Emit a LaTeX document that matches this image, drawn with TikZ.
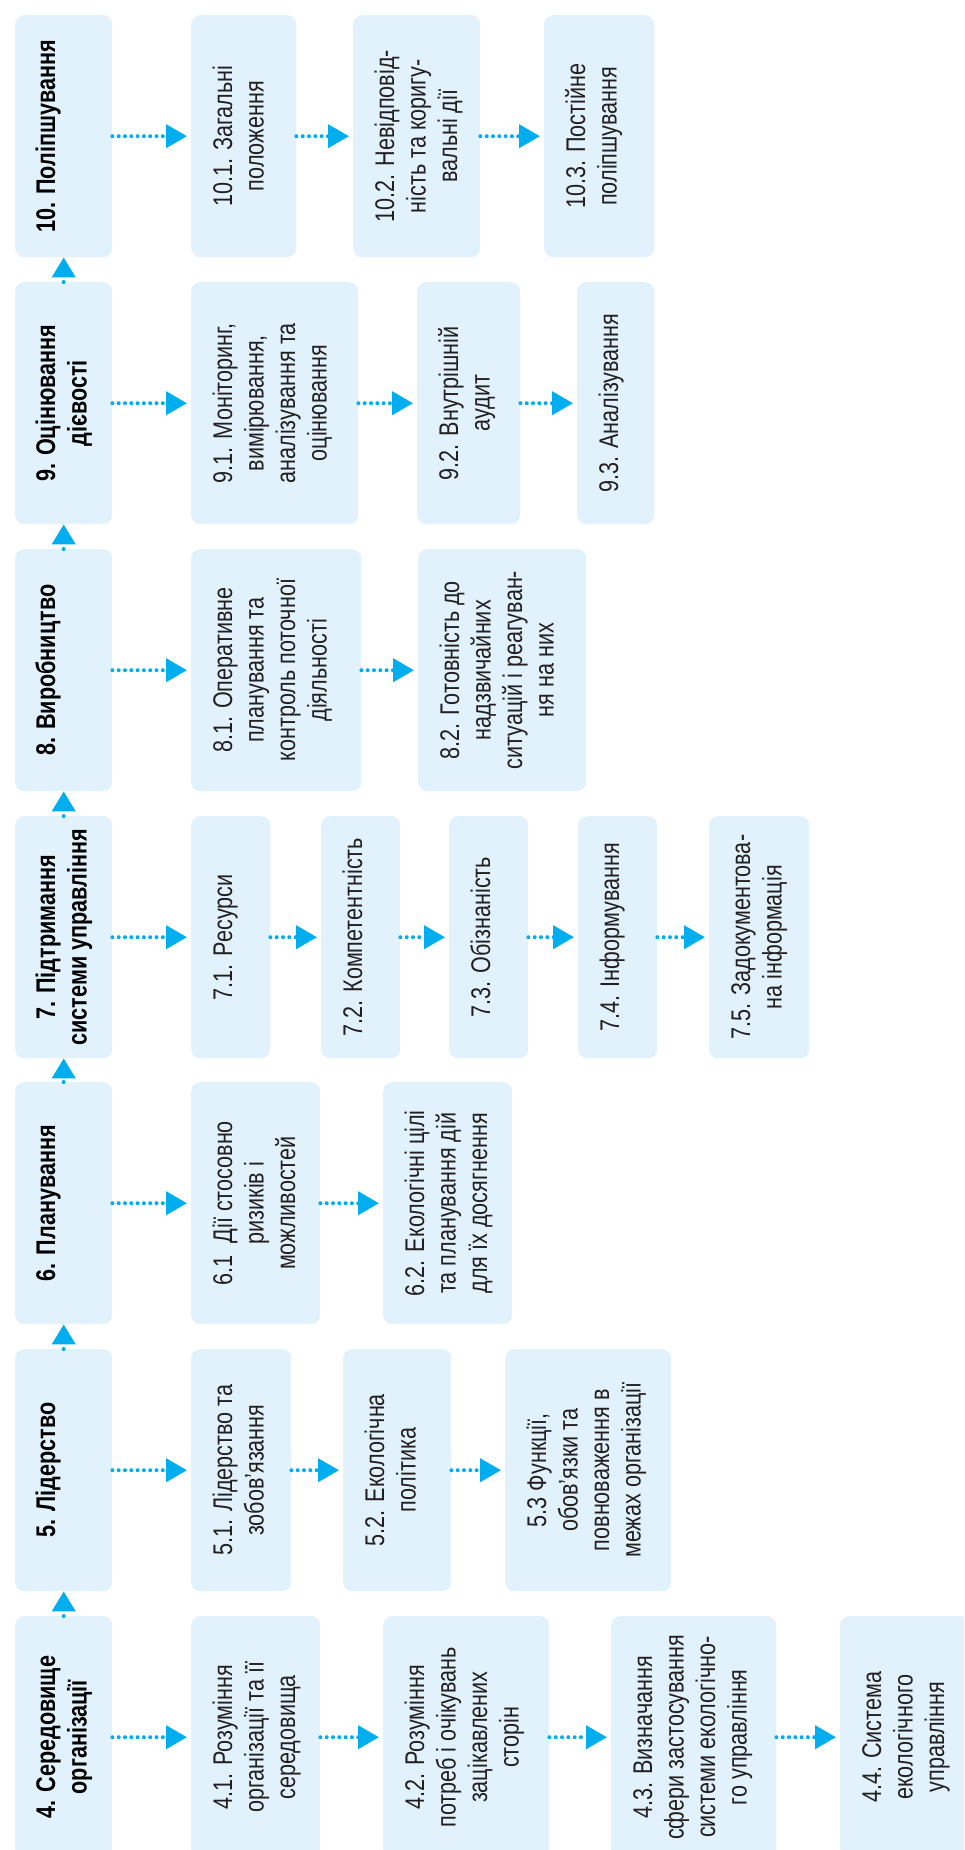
\documentclass[tikz,border=0pt]{standalone}
\usepackage{fontspec}
\newfontfamily\dfont{Liberation Sans}[FakeStretch=0.8]
\usetikzlibrary{arrows.meta}
\definecolor{boxfill}{HTML}{E1F2FC}
\definecolor{arrcol}{HTML}{00AEEF}
\definecolor{txtcol}{HTML}{231F20}
\tikzset{
 boxst/.style={fill=boxfill, rounded corners=9pt, inner sep=0pt, minimum height=242pt, draw=none},
 txtst/.style={rotate=90, anchor=base, inner sep=0pt, text=txtcol, font=\dfont\fontsize{27}{31.5}\selectfont},
 mtxtst/.style={txtst, text=black, font=\dfont\bfseries\fontsize{27}{31.5}\selectfont},
 arr/.style={draw=arrcol, line width=4pt, line cap=round, dash pattern=on 0pt off 6.3pt, -{Triangle[length=21pt,width=23pt,fill=arrcol]}, shorten >=4pt},
 uparr/.style={arr, shorten >=0pt, -{Triangle[length=20pt,width=23pt,fill=arrcol]}},
}
\newcommand{\mainbox}[3]{%
 \node[boxst, minimum width=97pt, anchor=north west] (#1) at (15,#2) {};
 \node[mtxtst] (#1t) at ([xshift=40pt]#1.west) {\begin{tabular}[t]{@{}c@{}}#3\end{tabular}};}
\newcommand{\subbox}[5]{%
 \node[boxst, minimum width=#3pt, anchor=north west] (#1) at (#2,#4) {};
 \node[txtst] (#1t) at ([xshift=41pt]#1.west) {\begin{tabular}[t]{@{}c@{}}#5\end{tabular}};}
\begin{document}
\begin{tikzpicture}[x=1pt,y=-1pt]
\useasboundingbox (0,0) rectangle (964,1850);
\clip (0,0) rectangle (964,1850);
% Row 10
\mainbox{m10}{15}{10. Поліпшування}
\subbox{s101}{191}{105}{15}{10.1. Загальні\\положення}
\subbox{s102}{353}{127}{15}{10.2. Невідповід-\\ність та коригу-\\вальні дії}
\subbox{s103}{544}{110}{15}{10.3. Постійне\\поліпшування}
% Row 9
\mainbox{m9}{282}{9. Оцінювання\\дієвості}
\subbox{s91}{191}{167}{282}{9.1. Моніторинг,\\вимірювання,\\аналізування та\\оцінювання}
\subbox{s92}{417}{103}{282}{9.2. Внутрішній\\аудит}
\subbox{s93}{577}{77}{282}{9.3. Аналізування}
% Row 8
\mainbox{m8}{549}{8. Виробництво}
\subbox{s81}{191}{170}{549}{8.1. Оперативне\\планування та\\контроль поточної\\діяльності}
\subbox{s82}{418}{168}{549}{8.2. Готовність до\\надзвичайних\\ситуацій і реагуван-\\ня на них}
% Row 7
\mainbox{m7}{816}{7. Підтримання\\системи управління}
\subbox{s71}{191}{79}{816}{7.1. Ресурси}
\subbox{s72}{321}{79}{816}{7.2. Компетентність}
\subbox{s73}{449}{79}{816}{7.3. Обізнаність}
\subbox{s74}{578}{79}{816}{7.4. Інформування}
\subbox{s75}{709}{100}{816}{7.5. Задокументова-\\на інформація}
% Row 6
\mainbox{m6}{1082}{6. Планування}
\subbox{s61}{191}{129}{1082}{6.1~ Дії стосовно\\ризиків і\\можливостей}
\subbox{s62}{383}{129}{1082}{6.2. Екологічні цілі\\та планування дій\\для їх досягнення}
% Row 5
\mainbox{m5}{1349}{5. Лідерство}
\subbox{s51}{191}{100}{1349}{5.1. Лідерство та\\зобов’язання}
\subbox{s52}{343}{108}{1349}{5.2. Екологічна\\політика}
\subbox{s53}{505}{166}{1349}{5.3 Функції,\\обов’язки та\\повноваження в\\межах організації}
% Row 4
\mainbox{m4}{1616}{4. Середовище\\організації}
\subbox{s41}{191}{129}{1616}{4.1. Розуміння\\організації та її\\середовища}
\subbox{s42}{383}{166}{1616}{4.2. Розуміння\\потреб і очікувань\\зацікавлених\\сторін}
\subbox{s43}{611}{165}{1616}{4.3. Визначання\\сфери застосування\\системи екологічно-\\го управління}
\subbox{s44}{840}{130}{1616}{4.4. Система\\екологічного\\управління}
% horizontal arrows
\draw[arr] (m10.east) -- (s101.west);
\draw[arr] (s101.east) -- (s102.west);
\draw[arr] (s102.east) -- (s103.west);
\draw[arr] (m9.east) -- (s91.west);
\draw[arr] (s91.east) -- (s92.west);
\draw[arr] (s92.east) -- (s93.west);
\draw[arr] (m8.east) -- (s81.west);
\draw[arr] (s81.east) -- (s82.west);
\draw[arr] (m7.east) -- (s71.west);
\draw[arr] (s71.east) -- (s72.west);
\draw[arr] (s72.east) -- (s73.west);
\draw[arr] (s73.east) -- (s74.west);
\draw[arr] (s74.east) -- (s75.west);
\draw[arr] (m6.east) -- (s61.west);
\draw[arr] (s61.east) -- (s62.west);
\draw[arr] (m5.east) -- (s51.west);
\draw[arr] (s51.east) -- (s52.west);
\draw[arr] (s52.east) -- (s53.west);
\draw[arr] (m4.east) -- (s41.west);
\draw[arr] (s41.east) -- (s42.west);
\draw[arr] (s42.east) -- (s43.west);
\draw[arr] (s43.east) -- (s44.west);
% vertical arrows
\draw[uparr] (m4.north) -- (m5.south);
\draw[uparr] (m5.north) -- (m6.south);
\draw[uparr] (m6.north) -- (m7.south);
\draw[uparr] (m7.north) -- (m8.south);
\draw[uparr] (m8.north) -- (m9.south);
\draw[uparr] (m9.north) -- (m10.south);
\end{tikzpicture}
\end{document}
